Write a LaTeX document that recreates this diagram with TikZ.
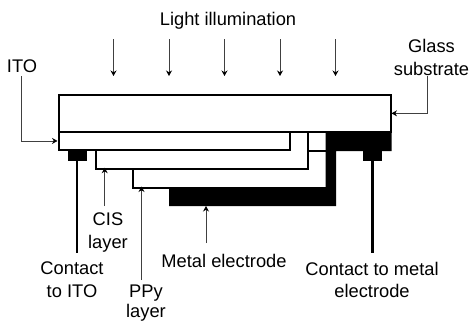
\documentclass[tikz,border=0pt]{standalone}
\usepackage{fontspec}
\setmainfont{Liberation Sans}
\usetikzlibrary{arrows.meta}
\tikzset{
  layerbox/.style={draw=black,line width=2pt,fill=white,inner sep=0pt,outer sep=0pt,anchor=north west},
  padbox/.style={fill=black,inner sep=0pt,outer sep=0pt,anchor=north west,minimum width=19pt,minimum height=10pt},
  lbl/.style={inner sep=0pt,align=center,font=\fontsize{18.3pt}{22.6pt}\selectfont},
  thinarrow/.style={draw=black!75,line width=0.8pt,-{Stealth[length=5.5pt,width=6pt,black]}},
  lead/.style={draw=black,line width=2.5pt}
}
\begin{document}
\begin{tikzpicture}[x=1pt,y=-1pt]
\useasboundingbox (0,0) rectangle (470,324);
% layers, lowest first
\node[layerbox,minimum width=200pt,minimum height=37pt] (ppy) at (133,150.5) {};
% metal electrode
\fill[black] (169,187.3) -- (325.7,187.3) -- (325.7,131) -- (391.5,131) -- (391.5,151) -- (336,151) -- (336,206) -- (169,206) -- cycle;
\node[coordinate] (metalbottom) at (206,206) {};
\node[layerbox,minimum width=212pt,minimum height=37pt] (cis) at (96.3,131.7) {};
\node[layerbox,minimum width=231.5pt,minimum height=18.5pt] (ito) at (58.5,131.7) {};
\node[layerbox,minimum width=332pt,minimum height=36.7pt] (glass) at (58.5,95) {};
\node[padbox] (padl) at (67.5,150.5) {};
\node[padbox] (padr) at (363.3,150.5) {};
% labels
\node[lbl] (light) at (228,21) {Light illumination};
\node[lbl] (glasslbl) at (431.5,57.5) {Glass\\substrate};
\node[lbl] (itolbl) at (22,66) {ITO};
\node[lbl] (cislbl) at (108,232.5) {CIS\\layer};
\node[lbl] (contactl) at (72,279.5) {Contact\\to ITO};
\node[lbl,font=\fontsize{18.3pt}{20.5pt}\selectfont] (ppylbl) at (146,303) {PPy\\layer};
\node[lbl] (metallbl) at (224,261) {Metal electrode};
\node[lbl] (contactr) at (372,280) {Contact to metal\\electrode};
% free ends
\coordinate (l1) at (113.5,39);
\coordinate (l2) at (169,39);
\coordinate (l3) at (224.5,39);
\coordinate (l4) at (280,39);
\coordinate (l5) at (335.5,39);
\coordinate (itostart) at (21.5,76);
\coordinate (glassstart) at (427.7,76);
\coordinate (cisstart) at (104.7,206);
\coordinate (ppystart) at (141.5,280);
\coordinate (metalstart) at (206,243);
\coordinate (leadl) at (77,252.5);
\coordinate (leadr) at (372.7,252.5);
% connectors
\foreach \c in {l1,l2,l3,l4,l5}
  \draw[thinarrow] (\c) -- ++(0,37);
\draw[thinarrow] (itostart) |- ([xshift=-1pt]ito.west);
\draw[thinarrow] (glassstart) |- ([xshift=1pt]glass.east);
\draw[thinarrow] (cisstart) -- ([yshift=1pt]cisstart |- cis.south);
\draw[thinarrow] (ppystart) -- ([yshift=1pt]ppystart |- ppy.south);
\draw[thinarrow] (metalstart) -- (metalbottom);
\draw[lead] (leadl) -- (padl.south -| leadl);
\draw[lead] (leadr) -- (padr.south -| leadr);
\end{tikzpicture}
\end{document}
